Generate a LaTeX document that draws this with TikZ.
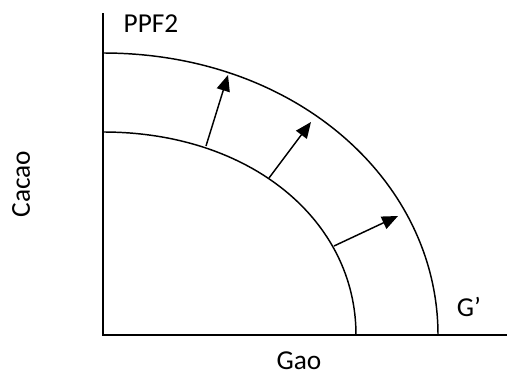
\documentclass[tikz,border=0pt]{standalone}
\usepackage{fontspec}
\setmainfont{Carlito}
\usetikzlibrary{arrows.meta}

\begin{document}
\begin{tikzpicture}[x=0.75pt,y=-0.75pt, every node/.style={font=\fontsize{20.5}{24}\selectfont,inner sep=0pt},
  axis/.style={line width=1.4pt},
  ppf/.style={line width=1.1pt},
  shiftarrow/.style={line width=1.1pt,-{Triangle[length=12pt,width=10pt]}}]
\useasboundingbox (0,0) rectangle (508,375);
% axes
\coordinate (o) at (103,335);
\coordinate (ytop) at (103,13);
\coordinate (xend) at (507,335);
\draw[axis] (ytop) -- (o) -- (xend);
% frontiers
\draw[ppf] (103,132) .. controls (250,132) and (356,220) .. (356,335);
\draw[ppf] (103,53) .. controls (297,53) and (438,182) .. (438,335);
% shifts
\coordinate (a1) at (206,146);
\coordinate (b1) at (228,75);
\coordinate (a2) at (269,178);
\coordinate (b2) at (311,122);
\coordinate (a3) at (334,246);
\coordinate (b3) at (398,216);
\foreach \s/\t in {a1/b1,a2/b2,a3/b3}{\draw[shiftarrow] (\s) -- (\t);}
% labels
\node (ppf2) at (151,24) {PPF2};
\node (gp) at (469,307) {G’};
\node[rotate=90] (cacao) at (21,184) {Cacao};
\node (gao) at (299,361) {Gao};
\end{tikzpicture}
\end{document}
